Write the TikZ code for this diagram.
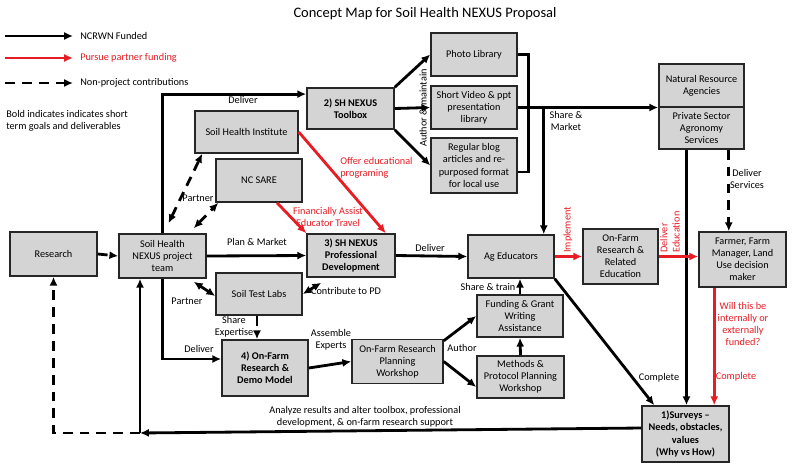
\documentclass[tikz,border=0pt]{standalone}
\usepackage{fontspec}
\setmainfont{Carlito}
\usetikzlibrary{arrows.meta,positioning,calc}
\definecolor{partnerred}{RGB}{232,28,36}
\definecolor{boxgray}{RGB}{212,212,212}
\newcommand{\mapfont}{\fontsize{7.3}{8.6}\selectfont}

\begin{document}
\begin{tikzpicture}[x=0.025cm,y=-0.025cm,
            font=\mapfont,
            >={Latex[length=2.2mm,width=2mm]},
            box/.style={draw=black!85,line width=1.1pt,fill=boxgray,align=center,inner sep=1pt},
            sz/.style 2 args={minimum width=#1*0.025cm,minimum height=#2*0.025cm},
            bold/.style={font=\mapfont\bfseries},
            fund/.style={line width=2pt,black,->},
            partner/.style={fund,partnerred},
            nonproj/.style={fund,dash pattern=on 7pt off 5pt},
            lbl/.style={align=center,inner sep=0pt},
            redlbl/.style={lbl,text=partnerred}
            ]
            \fill[white] (0,0) rectangle (800,468);
            \useasboundingbox (0,0) rectangle (800,468);

            \node[lbl,font=\fontsize{10.3}{12}\selectfont] (title) at (425,14) {Concept Map for Soil Health NEXUS Proposal};

            % legend
            \node[lbl,anchor=west] (lgfund) at (80,36) {NCRWN Funded};
            \node[lbl,anchor=west,text=partnerred] (lgpartner) at (80,58) {Pursue partner funding};
            \node[lbl,anchor=west] (lgnonproj) at (80,83) {Non-project contributions};
            \draw[fund] ($(lgfund.west)+(-75,0)$) -- ($(lgfund.west)+(-7,0)$);
            \draw[partner] ($(lgpartner.west)+(-75,0)$) -- ($(lgpartner.west)+(-7,0)$);
            \draw[nonproj] ($(lgnonproj.west)+(-75,0)$) -- ($(lgnonproj.west)+(-7,0)$);
            \node[lbl,anchor=west,align=left] (boldnote) at (6,121) {Bold indicates indicates short\\term goals and deliverables};

            % boxes
            \node[box,sz={87}{44}] (research) at (53.5,254) {Research};
            \node[box,sz={87}{44}] (team) at (162.5,256) {Soil Health\\NEXUS project\\team};
            \node[box,sz={103}{42}] (shi) at (246.5,132) {Soil Health Institute};
            \node[box,sz={86}{43}] (sare) at (259,180.5) {NC SARE};
            \node[box,sz={87}{41},bold] (toolbox) at (350.5,108.5) {2) SH NEXUS\\Toolbox};
            \node[box,sz={86}{43}] (photo) at (474,54.5) {Photo Library};
            \node[box,sz={86}{43}] (video) at (474,107.5) {Short Video \& ppt\\presentation\\library};
            \node[box,sz={86}{55}] (blog) at (474,165.5) {Regular blog\\articles and re-\\purposed format\\for local use};
            \node[box,sz={85}{43}] (nra) at (701.5,85.5) {Natural Resource\\Agencies};
            \node[box,sz={85}{42},below=-1.1pt of nra] (psa) {Private Sector\\Agronomy\\Services};
            \node[box,sz={88}{43},bold] (pd) at (351,255.5) {3) SH NEXUS\\Professional\\Development};
            \node[box,sz={86}{43}] (ag) at (511,256.5) {Ag Educators};
            \node[box,sz={75}{55}] (ofr) at (620.5,256.5) {On-Farm\\Research \&\\Related\\Education};
            \node[box,sz={87}{55}] (farmer) at (742.5,259.5) {Farmer, Farm\\Manager, Land\\Use decision\\maker};
            \node[box,sz={86}{42}] (labs) at (259,294) {Soil Test Labs};
            \node[box,sz={86}{56},bold] (demo) at (265,368) {4) On-Farm\\Research \&\\Demo Model};
            \node[box,sz={91}{44}] (workshop) at (397.5,361.5) {On-Farm Research\\Planning\\Workshop};
            \node[box,sz={86}{42}] (funding) at (520,316) {Funding \& Grant\\Writing\\Assistance};
            \node[box,sz={87}{42}] (methods) at (520.5,377) {Methods \&\\Protocol Planning\\Workshop};
            \node[box,sz={87}{56},bold] (surveys) at (685.5,434) {1)Surveys –\\Needs, obstacles,\\values\\(Why vs How)};

            % black connectors
            \draw[fund] (team.north) |- ([yshift=0.36cm]toolbox.west);
            \draw[fund] (team.east) -- (pd.west);
            \draw[fund] (pd.east) -- (ag.west);
            \draw[fund] (team.south) |- ([yshift=0.225cm]demo.west);
            \draw[fund] (toolbox.north east) -- (photo.west);
            \draw[fund] (toolbox.east) -- (video.west);
            \draw[fund] (toolbox.south east) -- (blog.west);
            \draw[line width=2pt] (photo.east) -- ++(11,0) |- ([yshift=-0.16cm]blog.east);
            \draw[fund] (video.east) -- (video.east -| nra.west);
            \coordinate (mkt) at ([xshift=-0.275cm]ag.north east);
            \draw[fund] (mkt |- video.east) -- (mkt);
            \draw[fund] (demo.east) -- (workshop.west);
            \draw[fund] ([yshift=-0.05cm]workshop.north east) -- (funding.west);
            \draw[fund] (workshop.east) -- ([yshift=-0.25cm]methods.west);
            \draw[fund] (methods.north) -- (funding.south);
            \draw[fund] (funding.north) -- (funding.north |- ag.south);
            \draw[fund] (ag.south east) -- ([xshift=0.325cm]surveys.north west);
            \coordinate (psadown) at ([xshift=-0.375cm]psa.south);
            \draw[fund] (psadown) -- (psadown |- surveys.north);
            \coordinate (back) at (140,433);
            \draw[fund] ([yshift=0.15cm]surveys.west) -- (back);
            \draw[fund] (back) -- (back |- team.south);

            % dashed connectors
            \draw[nonproj] (research.east) -- (team.west);
            \draw[nonproj] (back) -| (research.south);
            \draw[nonproj,<->] ([shift={(0.15cm,0.25cm)}]team.north) -- ([xshift=0.2cm]shi.south west);
            \draw[nonproj,<->] ([shift={(-0.325cm,0.125cm)}]team.north east) -- ([xshift=0.075cm]sare.south west);
            \draw[nonproj,<->] ([shift={(-0.325cm,-0.075cm)}]team.south east) -- ([yshift=-0.05cm]labs.west);
            \draw[nonproj,<->] ([shift={(0.375cm,-0.125cm)}]pd.south west) -- (labs.east);
            \draw[nonproj] ([xshift=-0.05cm]labs.south) -- ([xshift=-0.05cm]labs.south |- demo.north);
            \coordinate (psadash) at ([xshift=-0.4cm]psa.south east);
            \draw[nonproj] (psadash) -- (psadash |- farmer.north);

            % red connectors
            \draw[partner] (shi.east) -- ([xshift=-0.25cm]pd.north east);
            \draw[partner] ([xshift=0.45cm]sare.south) -- (pd.north west);
            \draw[partner] (ag.east) -- (ofr.west);
            \draw[partner] (ofr.east) -- (ofr.east -| farmer.west);
            \coordinate (fdown) at ([xshift=0.4cm]farmer.south west);
            \draw[partner] (fdown) -- (fdown |- surveys.north);

            % labels
            \node[lbl] (deliver1) at (243,100) {Deliver};
            \node[lbl] (planmkt) at (257,242) {Plan \& Market};
            \node[lbl] (deliver2) at (430,248) {Deliver};
            \node[lbl] (partner1) at (198,198) {Partner};
            \node[lbl] (partner2) at (187,301) {Partner};
            \node[lbl] (contrib) at (346,291) {Contribute to PD};
            \node[lbl] (expertise) at (234,327) {Share\\Expertise};
            \node[lbl] (deliver3) at (199,349) {Deliver};
            \node[lbl] (assemble) at (331,340) {Assemble\\Experts};
            \node[lbl] (author) at (462,348) {Author};
            \node[lbl] (train) at (488,287) {Share \& train};
            \node[lbl,rotate=90] (maintain) at (423,108) {Author \& maintain};
            \node[lbl] (sharemkt) at (566,121) {Share \&\\Market};
            \node[lbl] (services) at (747,179) {Deliver\\Services};
            \node[lbl] (complete1) at (659,378) {Complete};
            \node[lbl] (analyze) at (365,417) {Analyze results and alter toolbox, professional\\development, \& on-farm research support};
            \node[redlbl,anchor=west,align=left] (offer) at (340,168) {Offer educational\\programing};
            \node[redlbl] (travel) at (328,217) {Financially Assist\\Educator Travel};
            \node[redlbl,rotate=90,anchor=west] (implement) at (568,253) {Implement};
            \node[redlbl,rotate=90,anchor=west,align=left] (delivered) at (670,253) {Deliver\\Education};
            \node[redlbl] (funded) at (743,324) {Will this be\\internally or\\externally\\funded?};
            \node[redlbl] (complete2) at (736,377) {Complete};
        \end{tikzpicture}
\end{document}
